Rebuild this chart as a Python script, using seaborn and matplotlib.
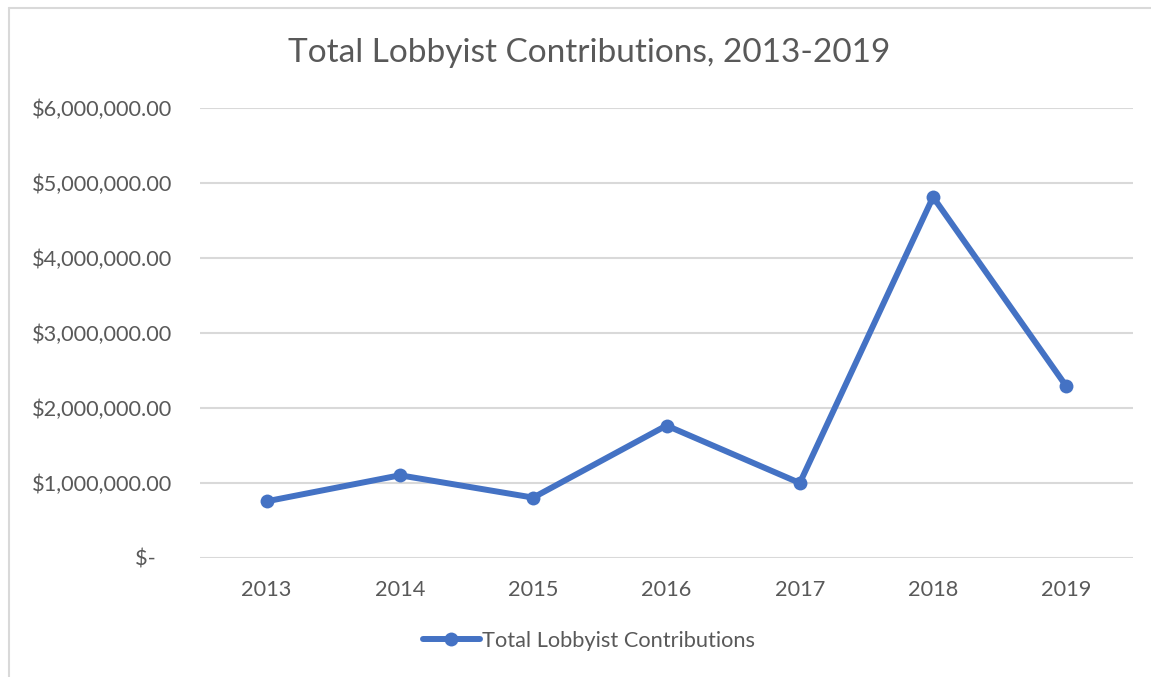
import matplotlib
matplotlib.use("Agg")
import matplotlib.pyplot as plt
from matplotlib.lines import Line2D
import pandas as pd
import seaborn as sns

# Annual totals of lobbyist contributions (USD)
years = ["2013", "2014", "2015", "2016", "2017", "2018", "2019"]
contributions = [756000, 1103000, 805000, 1766000, 1000000, 4813000, 2289000]
y_ticks = [0, 1_000_000, 2_000_000, 3_000_000, 4_000_000, 5_000_000, 6_000_000]
y_tick_labels = ["$-   ", "$1,000,000.00", "$2,000,000.00", "$3,000,000.00",
                 "$4,000,000.00", "$5,000,000.00", "$6,000,000.00"]
series_name = "Total Lobbyist Contributions"
title = "Total Lobbyist Contributions, 2013-2019"

df = pd.DataFrame({"Year": years, series_name: contributions})

sns.set_theme(style="white")
plt.rcParams["font.family"] = ["Lato", "DejaVu Sans"]

TEXT = "#595959"
GRID = "#D9D9D9"
BLUE = "#4472C4"
LABEL_SIZE = 15.7

W, H = 1151, 677
fig = plt.figure(figsize=(W / 100, H / 100), dpi=100)
ax = fig.add_axes([200 / W, 1 - 558 / H, (1133 - 200) / W, (558 - 108) / H])

sns.lineplot(data=df, x="Year", y=series_name, ax=ax, color=BLUE,
             linewidth=4.3, marker="o", markersize=10, markeredgewidth=0,
             label=series_name, legend=False, sort=False)

ax.set_xlim(-0.5, len(years) - 0.5)
ax.set_ylim(0, 6_000_000)
ax.set_yticks(y_ticks)
ax.set_yticklabels(y_tick_labels)
ax.set_xlabel("")
ax.set_ylabel("")
ax.yaxis.grid(True, color=GRID, linewidth=1.5)
ax.set_axisbelow(True)
for s in ax.spines.values():
    s.set_visible(False)
ax.tick_params(axis="y", length=0, pad=20, labelsize=LABEL_SIZE, labelcolor=TEXT)
ax.tick_params(axis="x", length=0, pad=16, labelsize=LABEL_SIZE, labelcolor=TEXT)

fig.text(589 / W, 1 - 53 / H, title, ha="center", va="center",
         fontsize=24, color=TEXT)

handle = Line2D([], [], color=BLUE, linewidth=4.3, marker="o",
                markersize=10, markeredgewidth=0)
fig.legend([handle], [series_name], loc="center", bbox_to_anchor=(589 / W, 1 - 641 / H),
           frameon=False, fontsize=LABEL_SIZE, handlelength=2.6, handletextpad=0.1,
           labelcolor=TEXT)

# chart frame (left and top edges)
fig.add_artist(Line2D([9 / W, 9 / W], [0, 1 - 8 / H], color=GRID, linewidth=1.5,
                      transform=fig.transFigure))
fig.add_artist(Line2D([9 / W, 1], [1 - 8 / H, 1 - 8 / H], color=GRID, linewidth=1.5,
                      transform=fig.transFigure))

fig.savefig("out.png", dpi=100, facecolor="white")
